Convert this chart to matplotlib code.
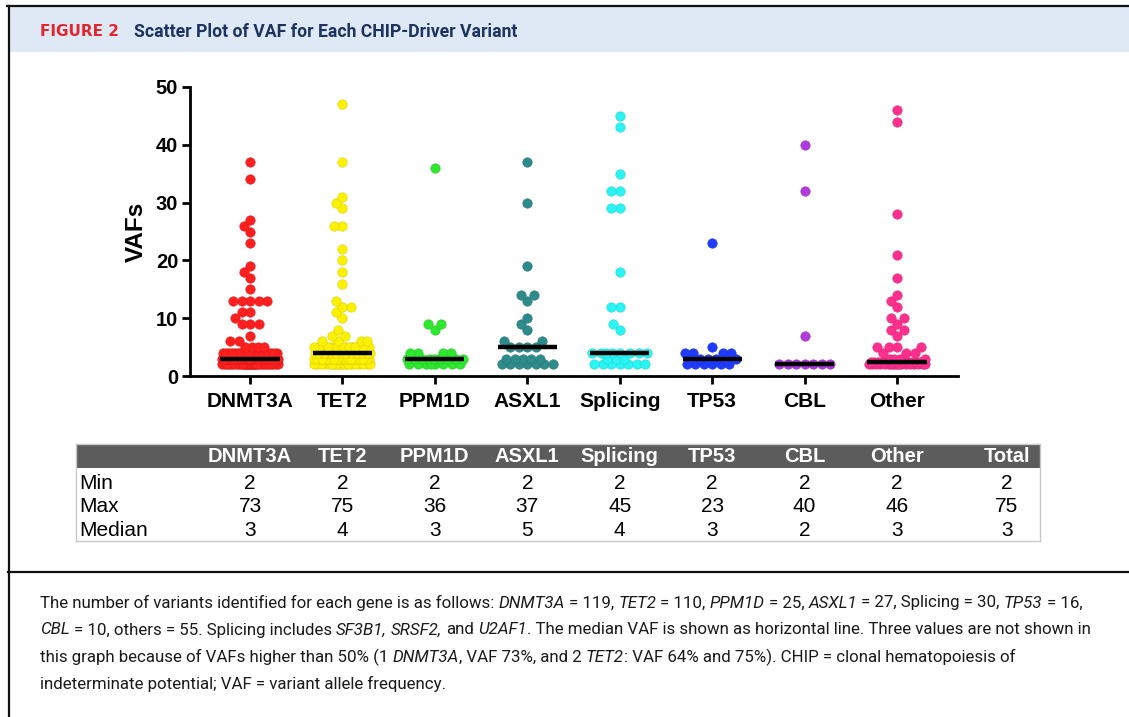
import numpy as np
import matplotlib.pyplot as plt
from matplotlib.patches import Rectangle
from matplotlib.lines import Line2D
from matplotlib.colors import to_rgb

# ---- data ----
categories = ['DNMT3A', 'TET2', 'PPM1D', 'ASXL1', 'Splicing', 'TP53', 'CBL', 'Other']
colors = ['#ff1f1f', '#fff200', '#2ee82e', '#2e8b8b', '#2af5f5', '#1f3bff', '#b03ae0', '#ff2f8e']

dnmt3a = [37, 34, 27, 26, 25, 23, 19, 18, 17, 15, 13, 13, 13, 13, 13, 11, 11, 10,
          9, 9, 9, 7, 6, 6, 5, 5, 5, 5] + [4] * 20 + [3] * 35 + [2] * 35
tet2 = [47, 37, 31, 30, 29, 26, 26, 22, 20, 18, 16, 13, 12, 12, 11, 10, 8,
        7, 7, 6, 6, 6, 6] + [5] * 15 + [4] * 20 + [3] * 30 + [2] * 20
ppm1d = [36, 9, 9, 8] + [4] * 4 + [3] * 9 + [2] * 8
asxl1 = [37, 30, 19, 14, 14, 13, 10, 9, 8, 6, 6] + [5] * 4 + [3] * 5 + [2] * 7
splicing = [45, 43, 35, 32, 32, 29, 29, 18, 12, 12, 9, 8] + [4] * 8 + [3] * 3 + [2] * 7
tp53 = [23, 5] + [4] * 4 + [3] * 4 + [2] * 6
cbl = [40, 32, 7] + [2] * 7
other = [46, 44, 28, 21, 17, 14, 13, 12, 10, 10, 9, 8, 8, 7, 5, 5, 5, 5] + \
        [4] * 3 + [3] * 4 + [2.5] * 12 + [2] * 18
series = [dnmt3a, tet2, ppm1d, asxl1, splicing, tp53, cbl, other]

table_cols = categories + ['Total']
table_rows = ['Min', 'Max', 'Median']
min_vals = ['2'] * 9
max_vals = ['73', '75', '36', '37', '45', '23', '40', '46', '75']
med_vals = ['3', '4', '3', '5', '4', '3', '2', '3', '3']

W, H = 1129, 717
fig = plt.figure(figsize=(W / 100, H / 100), dpi=100)


def fx(px):
    return px / W


def fy(py):
    return 1 - py / H


# ---- frame / title band ----
fig.add_artist(Rectangle((fx(8), fy(52)), 1 - fx(8), fy(7) - fy(52),
                         facecolor='#dfe9f5', edgecolor='none', transform=fig.transFigure))
fig.add_artist(Line2D([fx(7), 1], [fy(6), fy(6)], color='#111111', lw=1.6))
fig.add_artist(Line2D([fx(8.5), fx(8.5)], [fy(6), 0], color='#111111', lw=1.6))
fig.add_artist(Line2D([fx(8), 1], [fy(572), fy(572)], color='#111111', lw=1.6))

title_fam = ['Roboto', 'DejaVu Sans']
fig.text(fx(40), fy(32), 'FIGURE 2', color='#e2262f', fontweight='bold',
         fontsize=11, va='center', family='DejaVu Sans')
fig.text(fx(134), fy(32), 'Scatter Plot of VAF for Each CHIP-Driver Variant',
         color='#1d3461', fontweight='bold', fontsize=12.7, va='center', family=title_fam)

# ---- scatter ----
chart_fam = ['Liberation Sans', 'DejaVu Sans']
ax = fig.add_axes([fx(190), fy(376), fx(958) - fx(190), (376 - 87) / H])
ax.set_xlim((190 - 250) / 92.43, (958 - 250) / 92.43)
ax.set_ylim(0, 50)
for s in ['top', 'right']:
    ax.spines[s].set_visible(False)
for s in ['left', 'bottom']:
    ax.spines[s].set_linewidth(2)
ax.set_yticks([0, 10, 20, 30, 40, 50])
ax.set_xticks(range(len(categories)))
ax.set_xticklabels(categories)
ax.tick_params(axis='both', width=2, length=5.5)
ax.tick_params(axis='y', pad=3)
ax.tick_params(axis='x', pad=6)
for lab in ax.get_xticklabels():
    lab.set_fontweight('bold')
    lab.set_family(chart_fam)
    lab.set_fontsize(15)
for lab in ax.get_yticklabels():
    lab.set_fontweight('bold')
    lab.set_family(chart_fam)
    lab.set_fontsize(14.5)
ax.text(-0.0703, 0.5, 'VAFs', transform=ax.transAxes, rotation=90, ha='center',
        va='center', fontsize=17.5, fontweight='bold', family=chart_fam)

sx = ax.transData.transform((1, 0))[0] - ax.transData.transform((0, 0))[0]
d = 8.5
maxw = 28.0
steps = np.arange(0.5, maxw + 0.01, 0.5)
cands = np.concatenate([[0.0], np.ravel(np.column_stack([-steps, steps]))])

for i, (vals, c) in enumerate(zip(series, colors)):
    v = np.sort(np.array(vals, dtype=float))
    yp = ax.transData.transform(np.column_stack([np.zeros_like(v), v]))[:, 1]
    placed = []
    for y in yp:
        if placed:
            P = np.array(placed)
            dist = np.sqrt((cands[:, None] - P[None, :, 0]) ** 2 +
                           (y - P[None, :, 1]) ** 2).min(axis=1)
            ok = np.where(dist >= d)[0]
            k = ok[0] if len(ok) else int(np.argmax(dist))
        else:
            k = 0
        placed.append((cands[k], y))
    offs = np.array([p[0] for p in placed]) / sx
    edge = tuple(np.array(to_rgb(c)) * 0.85)
    ax.scatter(i + offs, v, s=46, color=c, edgecolor=edge, linewidth=0.4,
               zorder=3, clip_on=False)
    med = np.median(vals)
    ax.plot([i - 0.32, i + 0.32], [med, med], color='black', lw=3.2,
            solid_capstyle='butt', zorder=4)

# ---- table ----
tax = fig.add_axes([fx(76), fy(541), fx(1040) - fx(76), (541 - 444) / H])
x0, x1 = (76 - 250) / 92.43, (1040 - 250) / 92.43
tax.set_xlim(x0, x1)
tax.set_ylim(97, 0)
tax.set_xticks([])
tax.set_yticks([])
for s in tax.spines.values():
    s.set_color('#c8c8c8')
    s.set_linewidth(1)
tax.add_patch(Rectangle((x0, 0), x1 - x0, 24, facecolor='#5c5c5c', edgecolor='none'))
col_x = list(range(len(categories))) + [(1007 - 250) / 92.43]
for cx, name in zip(col_x, table_cols):
    tax.text(cx, 12.5, name, ha='center', va='center', color='white',
             fontweight='bold', fontsize=14.5, family=chart_fam)
row_y = [39, 62, 86]
for ry, rname, rv in zip(row_y, table_rows, [min_vals, max_vals, med_vals]):
    tax.text(0.003, ry, rname, transform=tax.get_yaxis_transform(), ha='left',
             va='center', fontsize=15, family=chart_fam)
    for cx, val in zip(col_x, rv):
        tax.text(cx, ry, val, ha='center', va='center', fontsize=15, family=chart_fam)

# ---- caption ----
cap_fam = ['Roboto', 'DejaVu Sans']
cap_size = 12.2
renderer = fig.canvas.get_renderer()


def text_width(s, italic):
    t = fig.text(0, 0, s, fontsize=cap_size, family=cap_fam,
                 style='italic' if italic else 'normal')
    w = t.get_window_extent(renderer).width
    t.remove()
    return w


space_w = text_width('a a', False) - text_width('aa', False)


def rich_line(x_px, y_px, parts):
    x = x_px
    for s, it in parts:
        if s.startswith(' '):
            x += space_w
        core = s.strip()
        t = fig.text(fx(x), fy(y_px), core, fontsize=cap_size, family=cap_fam,
                     style='italic' if it else 'normal', va='center', ha='left',
                     color='#1a1a1a')
        x += t.get_window_extent(renderer).width
        if s.endswith(' '):
            x += space_w


N, I = False, True
caption = [
    [('The number of variants identified for each gene is as follows:', N), (' DNMT3A', I),
     (' = 119,', N), (' TET2', I), (' = 110,', N), (' PPM1D', I), (' = 25,', N),
     (' ASXL1', I), (' = 27, Splicing = 30,', N), (' TP53', I), (' = 16,', N)],
    [('CBL', I), (' = 10, others = 55. Splicing includes', N), (' SF3B1,', I),
     (' SRSF2,', I), (' and', N), (' U2AF1', I),
     ('. The median VAF is shown as horizontal line. Three values are not shown in', N)],
    [('this graph because of VAFs higher than 50% (1', N), (' DNMT3A', I),
     (', VAF 73%, and 2', N), (' TET2', I),
     (': VAF 64% and 75%). CHIP = clonal hematopoiesis of', N)],
    [('indeterminate potential; VAF = variant allele frequency.', N)],
]
for k, parts in enumerate(caption):
    rich_line(40, 603 + 27 * k, parts)

fig.savefig('out.png', dpi=100)
